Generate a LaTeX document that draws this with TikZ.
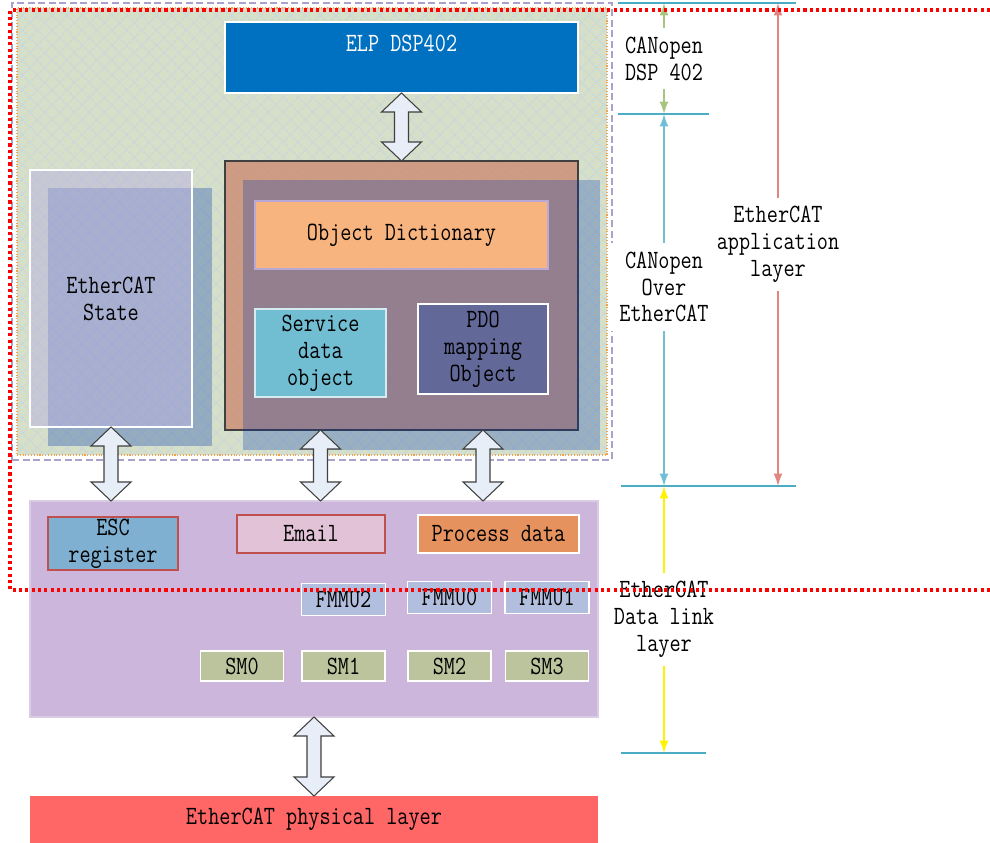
\documentclass[tikz,border=0pt]{standalone}
\usepackage{fontspec}
\setmainfont{Latin Modern Mono}[FakeStretch=0.82]
\usetikzlibrary{arrows.meta,calc,positioning,patterns.meta}
\definecolor{framelav}{HTML}{A9A2CC}
\definecolor{appgreen}{HTML}{D6E0C8}
\definecolor{hatch}{HTML}{C8D5DE}
\definecolor{dotorange}{HTML}{F2A24A}
\definecolor{shadowblue}{HTML}{0037AC}
\definecolor{statelav}{HTML}{BAB2DF}
\definecolor{coebrown}{HTML}{CC8066}
\definecolor{elpblue}{HTML}{0070C0}
\definecolor{odorange}{HTML}{F8B47E}
\definecolor{odborder}{HTML}{B9A9D6}
\definecolor{sdocyan}{HTML}{71BDD2}
\definecolor{pdoblue}{HTML}{626898}
\definecolor{arrowfill}{HTML}{E8EEF8}
\definecolor{linklav}{HTML}{CCB6DC}
\definecolor{escblue}{HTML}{7FB0D2}
\definecolor{escred}{HTML}{C0504D}
\definecolor{emailpink}{HTML}{E2C2D6}
\definecolor{procorange}{HTML}{E6925E}
\definecolor{fmmublue}{HTML}{B2BEDD}
\definecolor{smolive}{HTML}{BCC49E}
\definecolor{physred}{HTML}{FF6666}
\definecolor{tickcyan}{HTML}{4BACC6}
\definecolor{dimgreen}{HTML}{A9C47F}
\definecolor{dimcyan}{HTML}{70BFD4}
\definecolor{dimred}{HTML}{E0857F}
\newcommand{\boxfont}{\fontsize{15}{15.3}\selectfont}
\tikzstyle{box} = [rectangle, inner sep=0pt, outer sep=0pt, align=center, font=\boxfont]
\tikzstyle{blockarrow} = [draw=black!75, fill=arrowfill, line width=0.6pt, line join=miter]
\tikzstyle{tick} = [draw=tickcyan, line width=0.8pt]
\tikzstyle{dimlabel} = [fill=white, inner sep=5pt, align=center, font=\boxfont]
\tikzstyle{fmmu} = [fill=fmmublue, draw=white, line width=0.8pt]
\tikzstyle{smbox} = [fill=smolive, draw=white, line width=0.8pt]
\tikzset{wh/.style 2 args={minimum width=#1*0.2mm, minimum height=#2*0.2mm}}
\newcommand{\dblarrow}[2]{\draw[blockarrow] (#1) -- ($(#1)+(20,19)$) -- ($(#1)+(7,19)$) -- ($(#2)+(7,-19)$) -- ($(#2)+(20,-19)$) -- (#2) -- ($(#2)+(-20,-19)$) -- ($(#2)+(-7,-19)$) -- ($(#1)+(-7,19)$) -- ($(#1)+(-20,19)$) -- cycle;}

\begin{document}
\begin{tikzpicture}[x=0.2mm,y=-0.2mm,>={Latex[length=7pt,width=5pt]}]
\useasboundingbox (0,0) rectangle (990,843);

\node[box, wh={600}{457}, draw=framelav, line width=0.6pt, dash pattern=on 4pt off 2pt] (frame) at (312,231.5) {};
\node[box, wh={590}{447}, fill=appgreen, draw=dotorange, densely dotted, line width=0.6pt,
      postaction={pattern={Lines[angle=45,distance=6pt,line width=1pt]}, pattern color=hatch},
      postaction={pattern={Lines[angle=-45,distance=6pt,line width=1pt]}, pattern color=hatch}] (app) at (312,231.5) {};

\node[box, wh={164}{258}, fill=shadowblue, fill opacity=0.3] (StateSh) at (130,317) {};
\node[box, wh={162}{257}, draw=white, line width=0.8pt, fill=statelav, fill opacity=0.52, text opacity=1] (State) at (111,298.5) {EtherCAT\\State};

\node[box, wh={353}{269}, draw=black!75, line width=0.8pt, fill=coebrown, fill opacity=0.7] (CoE) at (401.5,295.5) {};
\node[box, wh={357}{270}, fill=shadowblue, fill opacity=0.28] (CoESh) at (421.5,315) {};

\node[box, wh={353}{71}, fill=elpblue, draw=white, line width=0.8pt,
      label={[font=\boxfont, text=white, anchor=center, yshift=-4.2mm]north:ELP DSP402}] (ELP) at (401.5,57.5) {};
\node[box, wh={293}{68}, fill=odorange, draw=odborder, line width=0.8pt] (OD) at (401.5,235) {Object Dictionary};
\node[box, wh={131}{88}, fill=sdocyan, draw=white!70!sdocyan, line width=0.8pt] (SDO) at (320.5,353) {Service\\data\\object};
\node[box, wh={130}{90}, fill=pdoblue, draw=white, line width=0.8pt] (PDO) at (483,349) {PDO\\mapping\\Object};

\node[box, wh={568}{216}, fill=linklav, draw=linklav!70!white, line width=0.8pt] (Link) at (314,609) {};
\node[box, wh={130}{53}, fill=escblue, draw=escred, line width=0.8pt] (ESC) at (113,543.5) {ESC\\register};
\node[box, wh={148}{38}, fill=emailpink, draw=escred, line width=0.8pt] (Email) at (311,534) {Email};
\node[box, wh={161}{38}, fill=procorange, draw=white, line width=0.8pt] (Proc) at (498.5,534) {Process data};
\foreach \n/\x/\y in {2/343.5/599.5,0/449.5/597.5,1/547/597.5}
  \node[box, wh={84}{32}, fmmu] (FMMU\n) at (\x,\y) {FMMU\n};
\foreach \n/\x in {0/242,1/343.5,2/449.5,3/547}
  \node[box, wh={83}{30}, smbox] (SM\n) at (\x,666) {SM\n};

\node[box, wh={568}{47}, fill=physred] (Phys) at (314,819.5) {EtherCAT physical layer};

\coordinate (a1) at (State.south |- Link.north);
\coordinate (a2t) at (SDO.south |- CoE.south);
\coordinate (a2b) at (SDO.south |- Link.north);
\coordinate (a3t) at (PDO.south |- CoE.south);
\coordinate (a3b) at (PDO.south |- Link.north);
\dblarrow{ELP.south}{CoE.north}
\dblarrow{State.south}{a1}
\dblarrow{a2t}{a2b}
\dblarrow{a3t}{a3b}
\dblarrow{Link.south}{Phys.north}

\coordinate (k0l) at (618,3);   \coordinate (k0r) at (796,3);
\coordinate (k1l) at (618,114); \coordinate (k1r) at (709,114);
\coordinate (k2l) at (621,486); \coordinate (k2r) at (796,486);
\coordinate (k3l) at (621,753); \coordinate (k3r) at (706,753);
\foreach \k in {0,1,2,3}
  \draw[tick] (k\k l) -- (k\k r);

\coordinate (g0) at (664,3);   \coordinate (g1) at (664,114);
\coordinate (c0) at (664,114); \coordinate (c1) at (664,486);
\coordinate (r0) at (778,3);   \coordinate (r1) at (778,486);
\coordinate (y0) at (664,486); \coordinate (y1) at (664,753);
\draw[<->, draw=dimgreen, fill=dimgreen, line width=0.8pt] (g0) -- node[dimlabel] {CANopen\\DSP 402} (g1);
\draw[<->, draw=dimcyan, fill=dimcyan, line width=0.8pt] (c0) -- node[dimlabel, pos=0.465] {CANopen\\Over\\EtherCAT} (c1);
\draw[<->, draw=dimred, fill=dimred, line width=0.8pt] (r0) -- node[dimlabel] {EtherCAT\\application\\layer} (r1);
\draw[<->, draw=yellow, fill=yellow, line width=0.8pt] (y0) -- node[dimlabel] {EtherCAT\\Data link\\layer} (y1);

\draw[red, line width=1.8pt, dash pattern=on 1.8pt off 1.8pt] (990,10) -- (10,10) -- (10,590) -- (990,590);
\end{tikzpicture}
\end{document}
